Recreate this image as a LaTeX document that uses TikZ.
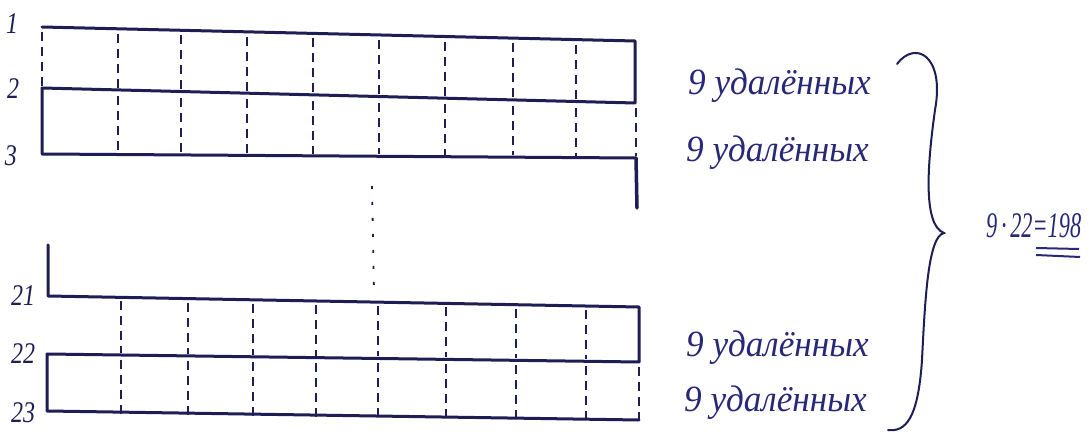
\documentclass[tikz,border=0pt]{standalone}
\usepackage{fontspec}
\setmainfont{Liberation Serif}
\begin{document}
\begin{tikzpicture}[x=1pt,y=-1pt,
  ink/.style={draw=inkc,line width=3pt,line cap=round,line join=round},
  dsh/.style={draw=inkc,line width=1.8pt,dash pattern=on 9pt off 6pt},
  lbl/.style={text=inkc,font=\itshape\fontsize{30}{30}\selectfont,inner sep=0pt,xscale=0.8},
  note/.style={text=textc,font=\itshape\fontsize{37}{37}\selectfont,inner sep=0pt,anchor=west,xscale=0.95},
]
\definecolor{inkc}{RGB}{30,30,85}
\definecolor{textc}{RGB}{40,40,120}
\useasboundingbox (0,0) rectangle (1092,443);
\fill[white] (0,0) rectangle (1092,443);
% top block
\coordinate (a1) at (42,27);  \coordinate (b1) at (635,41);
\coordinate (a2) at (42,88);  \coordinate (b2) at (635,103);
\coordinate (a3) at (42,154); \coordinate (b3) at (636,158);
\coordinate (e3) at (637,208);
\draw[ink] (a1) -- (b1) -- (b2) -- (a2) -- (a3) -- (b3);
\draw[ink,line width=3.5pt] (b3) -- (e3);
\foreach \x in {118,181,247,313,379,445,513,576}
  \draw[dsh] (\x,{27+(\x-42)*14/593+5}) -- (\x,{88+(\x-42)*15/593-2});
\draw[dsh] (42,32) -- (42,86);
\foreach \x in {118,181,247,313,379,445,513,576}
  \draw[dsh] (\x,{88+(\x-42)*15/593+6}) -- (\x,{154+(\x-42)*4/594-2});
\draw[dsh] (636,108) -- (636,156);
% dots
\coordinate (d1) at (372,186); \coordinate (d2) at (374,292);
\draw[draw=inkc,line width=1.8pt,dash pattern=on 3pt off 13pt] (d1) -- (d2);
% bottom block
\coordinate (s21) at (48,245);
\coordinate (a21) at (48,296); \coordinate (b21) at (639,307);
\coordinate (a22) at (47,354); \coordinate (b22) at (639,362);
\coordinate (a23) at (47,411); \coordinate (b23) at (639,420);
\draw[ink] (s21) -- (a21) -- (b21) -- (b22) -- (a22) -- (a23) -- (b23);
\foreach \x in {121,188,253,316,378,446,516,586}
  \draw[dsh] (\x,{296+(\x-48)*11/591+4}) -- (\x,{354+(\x-47)*8/592-2});
\foreach \x in {121,188,253,316,378,446,516,586}
  \draw[dsh] (\x,{354+(\x-47)*8/592+5}) -- (\x,{411+(\x-47)*9/592+2});
\draw[dsh] (639,367) -- (639,424);
% row labels
\node[lbl] (l1)  at (12,24)  {1};
\node[lbl] (l2)  at (13,89)  {2};
\node[lbl] (l3)  at (11,156) {3};
\node[lbl] (l21) at (23,296) {21};
\node[lbl] (l22) at (23,354) {22};
\node[lbl] (l23) at (23,413) {23};
% notes
\node[note] (n1) at (688,86)  {9 удалённых};
\node[note] (n2) at (686,153) {9 удалённых};
\node[note] (n3) at (686,348) {9 удалённых};
\node[note] (n4) at (684,403) {9 удалённых};
% brace
\coordinate (bt) at (897,64);
\coordinate (bm) at (944,233);
\coordinate (bb) at (888,430);
\draw[draw=inkc,line width=2pt,line cap=round]
  (bt) .. controls (915,40) and (945,55) .. (935,110)
  .. controls (928,160) and (922,225) .. (bm)
  .. controls (928,236) and (925,300) .. (922,360)
  .. controls (918,420) and (905,432) .. (bb);
% result
\node[text=textc,font=\itshape\fontsize{36}{36}\selectfont,inner sep=0pt,anchor=west,xscale=0.62] (res) at (986,226) {9\,·\,22=198};
\draw[draw=textc,line width=2pt] (1036,248) -- (1079,249);
\draw[draw=textc,line width=2pt] (1036,255) -- (1080,257);
\end{tikzpicture}
\end{document}
